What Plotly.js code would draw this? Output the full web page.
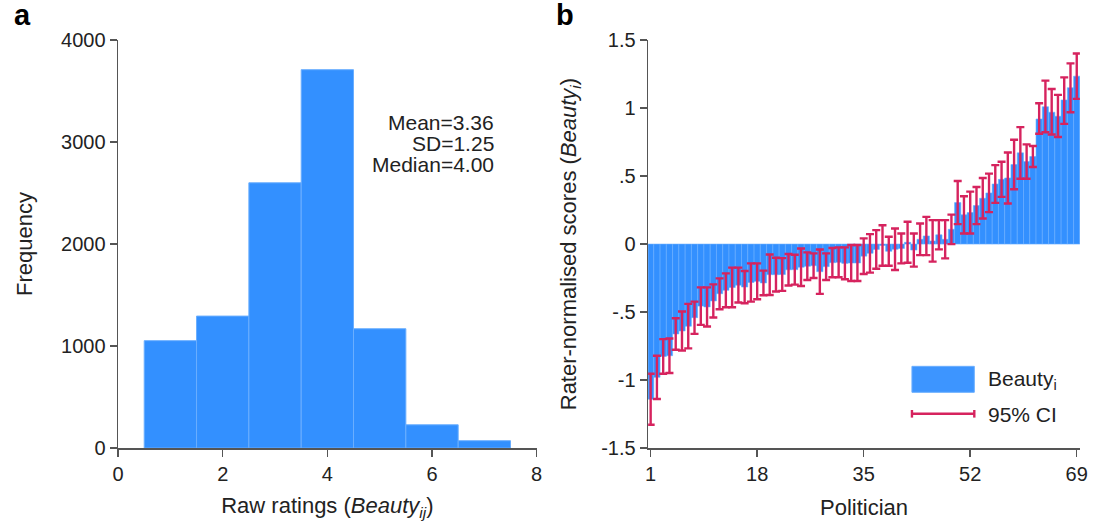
<!DOCTYPE html>
<html>
<head>
<meta charset="utf-8">
<script src="https://cdn.plot.ly/plotly-3.0.1.min.js"></script>
<style>html,body{margin:0;padding:0;background:#fff}#chart{width:1093px;height:521px}</style>
</head>
<body>
<div id="chart"></div>
<script>
// Panel a: histogram of raw ratings
const ratingBins = [1, 2, 3, 4, 5, 6, 7];
const ratingCounts = [1053, 1294, 2601, 3710, 1170, 228, 72];
const histXTicks = [0, 2, 4, 6, 8];
const histYTicks = [0, 1000, 2000, 3000, 4000];
const statsLines = ["Mean=3.36", "SD=1.25", "Median=4.00"];
const statsYPos = [3196, 2990, 2784];

// Panel b: rater-normalised scores per politician
const politicians = Array.from({length: 69}, (_, i) => i + 1);
const ciUpper = [-0.953, -0.821, -0.699, -0.694, -0.545, -0.496, -0.440, -0.423, -0.318, -0.318,
  -0.296, -0.252, -0.215, -0.173, -0.173, -0.198, -0.142, -0.142, -0.195, -0.076,
  -0.100, -0.103, -0.073, -0.078, -0.032, -0.061, -0.068, -0.040, -0.068, -0.029,
  -0.024, -0.024, -0.007, -0.007, 0.042, 0.073, 0.103, 0.139, 0.054, 0.115,
  0.078, 0.164, 0.078, 0.151, 0.200, 0.176, 0.176, 0.176, 0.217, 0.464,
  0.352, 0.386, 0.420, 0.486, 0.518, 0.581, 0.606, 0.674, 0.767, 0.860,
  0.733, 0.721, 1.036, 1.202, 1.141, 1.097, 1.226, 1.329, 1.402];
const ciLower = [-1.329, -1.139, -0.953, -0.948, -0.777, -0.782, -0.767, -0.660, -0.594, -0.606,
  -0.540, -0.479, -0.464, -0.464, -0.430, -0.435, -0.423, -0.406, -0.376, -0.374,
  -0.349, -0.344, -0.305, -0.298, -0.308, -0.264, -0.249, -0.366, -0.264, -0.244,
  -0.244, -0.259, -0.271, -0.271, -0.220, -0.210, -0.181, -0.159, -0.159, -0.191,
  -0.142, -0.137, -0.166, -0.081, -0.081, -0.129, -0.039, -0.105, 0.000, 0.147,
  0.078, 0.078, 0.147, 0.188, 0.235, 0.303, 0.347, 0.298, 0.403, 0.481,
  0.481, 0.567, 0.811, 0.823, 0.806, 0.787, 0.884, 0.970, 1.068];
const scores = [-1.141, -0.980, -0.826, -0.821, -0.661, -0.639, -0.604, -0.541, -0.456, -0.462,
  -0.418, -0.365, -0.340, -0.319, -0.302, -0.316, -0.282, -0.274, -0.286, -0.225,
  -0.225, -0.224, -0.189, -0.188, -0.170, -0.163, -0.159, -0.203, -0.166, -0.137,
  -0.134, -0.142, -0.139, -0.139, -0.089, -0.068, -0.039, -0.010, -0.053, -0.038,
  -0.032, 0.013, -0.044, 0.035, 0.060, 0.023, 0.068, 0.035, 0.109, 0.305,
  0.215, 0.232, 0.283, 0.337, 0.376, 0.442, 0.476, 0.486, 0.585, 0.671,
  0.607, 0.644, 0.920, 1.010, 0.970, 0.940, 1.060, 1.150, 1.235];
const politicianTicks = [1, 18, 35, 52, 69];
const scoreTickVals = [-1.5, -1, -0.5, 0, 0.5, 1, 1.5];
const scoreTickText = ["-1.5", "-1", "-.5", "0", ".5", "1", "1.5"];
const legendLabels = ["Beauty<sub>i</sub>", "95% CI"];

const BLUE = "#3390ff";
const BLUE_EDGE = "#6aaeff";
const RED = "#d6235e";
const AXIS = "#555555";
const TXT = "#222222";
const FONT = "Liberation Sans, Arial, sans-serif";

const errPlus = scores.map((v, i) => ciUpper[i] - v);
const errMinus = scores.map((v, i) => v - ciLower[i]);

const traces = [
  {
    type: "bar", x: ratingBins, y: ratingCounts, width: 1,
    marker: {color: BLUE, line: {color: BLUE_EDGE, width: 1}},
    xaxis: "x", yaxis: "y", showlegend: false, hoverinfo: "x+y"
  },
  {
    type: "bar", x: politicians, y: scores, width: 1,
    marker: {color: BLUE, line: {color: BLUE_EDGE, width: 0.6}},
    error_y: {type: "data", symmetric: false, array: errPlus, arrayminus: errMinus,
      color: RED, thickness: 2.4, width: 4},
    xaxis: "x2", yaxis: "y2", showlegend: false
  }
];

const axisCommon = {
  showgrid: false, zeroline: false, showline: true, linecolor: AXIS, linewidth: 1.5,
  ticks: "outside", ticklen: 7, tickwidth: 1.5, tickcolor: AXIS,
  tickfont: {family: FONT, size: 20, color: TXT}
};
const titleFont = {family: FONT, size: 22, color: TXT};

const statsAnnotations = statsLines.map((t, i) => ({
  text: t, xref: "x", yref: "y", x: 7.22, y: statsYPos[i], xanchor: "right", yanchor: "middle",
  align: "right", showarrow: false, font: {family: FONT, size: 21, color: TXT}
}));

const layout = {
  width: 1093, height: 521,
  margin: {l: 0, r: 0, t: 0, b: 0},
  paper_bgcolor: "#fff", plot_bgcolor: "#fff",
  font: {family: FONT, color: TXT},
  bargap: 0,
  xaxis: Object.assign({}, axisCommon, {
    domain: [0.108, 0.491], range: [0, 8], tickvals: histXTicks,
    title: {text: "Raw ratings (<i>Beauty<sub>ij</sub></i>)", font: titleFont, standoff: 16}
  }),
  yaxis: Object.assign({}, axisCommon, {
    domain: [0.140, 0.923], range: [0, 4000], tickvals: histYTicks,
    title: {text: "Frequency", font: titleFont, standoff: 22}
  }),
  xaxis2: Object.assign({}, axisCommon, {
    domain: [0.593, 0.988], range: [0.6, 69.5], tickvals: politicianTicks, anchor: "y2",
    title: {text: "Politician", font: titleFont, standoff: 16}
  }),
  yaxis2: Object.assign({}, axisCommon, {
    domain: [0.140, 0.923], range: [-1.5, 1.5], tickvals: scoreTickVals, ticktext: scoreTickText, anchor: "x2",
    title: {text: "Rater-normalised scores (<i>Beauty<sub>i</sub></i>)", font: titleFont, standoff: 18}
  }),
  annotations: [
    {text: "<b>a</b>", xref: "paper", yref: "paper", x: 0.011, y: 1.005, xanchor: "left", yanchor: "top",
      showarrow: false, font: {family: FONT, size: 29, color: "#000"}},
    {text: "<b>b</b>", xref: "paper", yref: "paper", x: 0.507, y: 1.005, xanchor: "left", yanchor: "top",
      showarrow: false, font: {family: FONT, size: 29, color: "#000"}},
    ...statsAnnotations,
    {text: legendLabels[0], xref: "x2", yref: "y2", x: 54.5, y: -0.997, xanchor: "left", yanchor: "middle",
      showarrow: false, font: {family: FONT, size: 21, color: TXT}},
    {text: legendLabels[1], xref: "x2", yref: "y2", x: 54.5, y: -1.253, xanchor: "left", yanchor: "middle",
      showarrow: false, font: {family: FONT, size: 21, color: TXT}}
  ],
  shapes: [
    {type: "rect", xref: "x2", yref: "y2", x0: 42.7, x1: 52.65, y0: -1.09, y1: -0.899,
      fillcolor: "#3d95ff", line: {color: BLUE_EDGE, width: 1}},
    {type: "line", xref: "x2", yref: "y2", x0: 42.7, x1: 52.65, y0: -1.248, y1: -1.248, line: {color: RED, width: 2.4}},
    {type: "line", xref: "x2", yref: "y2", x0: 42.7, x1: 42.7, y0: -1.22, y1: -1.276, line: {color: RED, width: 2.4}},
    {type: "line", xref: "x2", yref: "y2", x0: 52.65, x1: 52.65, y0: -1.22, y1: -1.276, line: {color: RED, width: 2.4}}
  ]
};

Plotly.newPlot("chart", traces, layout, {displayModeBar: false, staticPlot: true});
</script>
</body>
</html>
